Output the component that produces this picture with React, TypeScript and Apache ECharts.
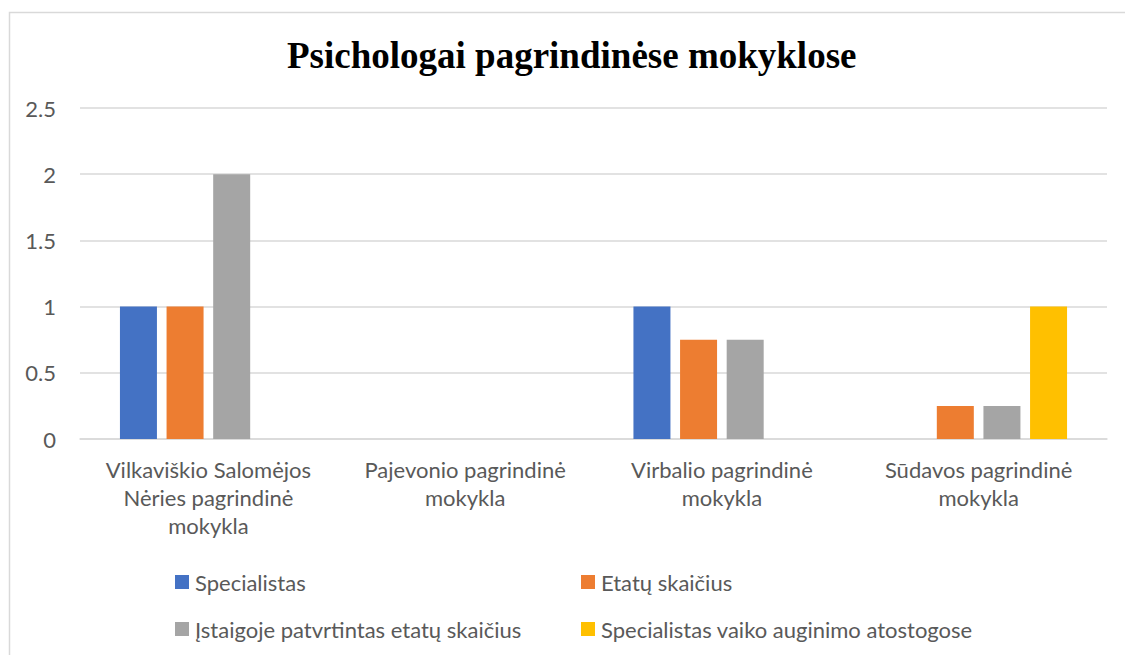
import React, { useEffect, useRef } from "react";
import * as echarts from "echarts";

const categories = [
  "Vilkaviškio Salomėjos\nNėries pagrindinė\nmokykla",
  "Pajevonio pagrindinė\nmokykla",
  "Virbalio pagrindinė\nmokykla",
  "Sūdavos pagrindinė\nmokykla",
];
const seriesNames = [
  "Specialistas",
  "Etatų skaičius",
  "Įstaigoje patvrtintas etatų skaičius",
  "Specialistas vaiko auginimo atostogose",
];
const specialistas = [1, 0, 1, 0];
const etatai = [1, 0, 0.75, 0.25];
const patvirtinta = [2, 0, 0.75, 0.25];
const atostogos = [0, 0, 0, 1];
const colors = ["#4472C4", "#ED7D31", "#A5A5A5", "#FFC000"];

const FONT = "Lato";
const TXT = "#595959";

export default function App() {
  const ref = useRef<HTMLDivElement>(null);
  useEffect(() => {
    const chart = echarts.init(ref.current!, null, { renderer: "svg" });
    const values = [specialistas, etatai, patvirtinta, atostogos];
    const legendPos = [
      { left: 175, top: 571 },
      { left: 581, top: 571 },
      { left: 175, top: 618 },
      { left: 581, top: 618 },
    ];
    chart.setOption({
      animation: false,
      backgroundColor: "#ffffff",
      color: colors,
      title: {
        text: "Psichologai pagrindinėse mokyklose",
        left: 287,
        top: 37,
        padding: 0,
        textStyle: {
          fontFamily: "Liberation Serif",
          fontWeight: "bold",
          fontSize: 37,
          color: "#000000",
        },
      },
      graphic: [
        {
          type: "rect",
          shape: { x: 9.5, y: 12.5, width: 1300, height: 800 },
          style: { fill: "none", stroke: "#d9d9d9", lineWidth: 1.5 },
          silent: true,
        },
      ],
      legend: seriesNames.map((n, i) => ({
        data: [n],
        left: legendPos[i].left,
        top: legendPos[i].top,
        icon: "rect",
        itemWidth: 14,
        itemHeight: 14,
        itemGap: 6,
        padding: 0,
        textStyle: { fontFamily: FONT, fontSize: 22, color: TXT, padding: [0, 0, 0, 1] },
        selectedMode: false,
      })),
      grid: { left: 80, right: 18, top: 108, bottom: 216 },
      xAxis: {
        type: "category",
        data: categories,
        axisTick: { show: false },
        axisLine: { lineStyle: { color: "#d9d9d9", width: 1.5 } },
        axisLabel: {
          interval: 0,
          margin: 16,
          fontFamily: FONT,
          fontSize: 22,
          lineHeight: 28,
          color: TXT,
          align: "center",
        },
      },
      yAxis: {
        type: "value",
        min: 0,
        max: 2.5,
        interval: 0.5,
        axisLine: { show: false },
        axisTick: { show: false },
        splitLine: { lineStyle: { color: "#d9d9d9", width: 1.5 } },
        axisLabel: {
          margin: 24,
          fontFamily: FONT,
          fontSize: 22,
          color: TXT,
        },
      },
      series: seriesNames.map((n, i) => ({
        name: n,
        type: "bar",
        data: values[i],
        barWidth: 37,
        barGap: "26%",
        itemStyle: { color: colors[i] },
      })),
    });
    return () => chart.dispose();
  }, []);
  return (
    <div
      ref={ref}
      style={{ position: "fixed", left: 0, top: 0, width: 1125, height: 655 }}
    />
  );
}
